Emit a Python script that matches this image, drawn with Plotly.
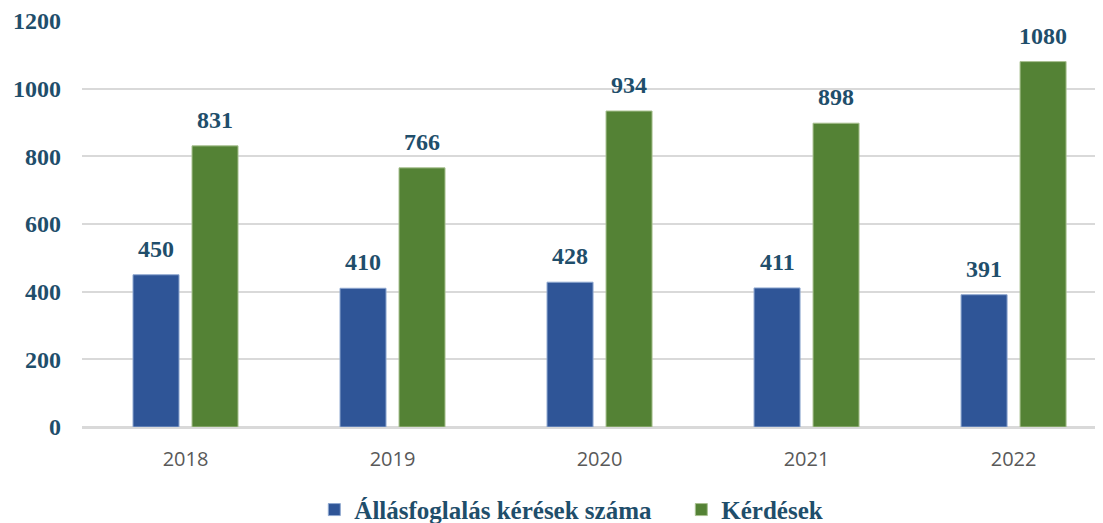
import plotly.graph_objects as go

years = ["2018", "2019", "2020", "2021", "2022"]
allasfoglalas = [450, 410, 428, 411, 391]
kerdesek = [831, 766, 934, 898, 1080]
series_names = ["Állásfoglalás kérések száma", "Kérdések"]
y_ticks = [0, 200, 400, 600, 800, 1000, 1200]

blue = "#2F5597"
green = "#548235"
label_color = "#1F4E6B"
serif = "Liberation Serif"

fig = go.Figure()
fig.add_trace(go.Bar(x=years, y=allasfoglalas, name="<b>" + series_names[0] + "</b>",
                     marker=dict(color=blue, line=dict(color="#8FA8D0", width=1))))
fig.add_trace(go.Bar(x=years, y=kerdesek, name="<b>" + series_names[1] + "</b>",
                     marker=dict(color=green, line=dict(color="#A9C191", width=1))))

for vals, shift in ((allasfoglalas, -29.5), (kerdesek, 29.5)):
    for i, v in enumerate(vals):
        fig.add_annotation(x=i, y=v, xref="x", yref="y", text=f"<b>{v}</b>", showarrow=False,
                           xshift=shift, yanchor="bottom", yshift=11,
                           font=dict(family=serif, size=24, color=label_color))

# page body has an 8px margin, so the figure is sized and placed to compensate
fig.update_layout(
    width=1095, height=515,
    margin=dict(l=74, r=0, t=13, b=96, autoexpand=False),
    paper_bgcolor="white", plot_bgcolor="white",
    barmode="group", bargap=0.43, bargroupgap=0.22,
    showlegend=True,
    legend=dict(orientation="h", x=0.587, xanchor="center", y=-0.204, yanchor="middle",
                font=dict(family=serif, size=25, color=label_color),
                itemwidth=30, entrywidth=322, traceorder="normal"),
    xaxis=dict(type="category", range=[-0.5, 4.432],
               tickfont=dict(family="Open Sans", size=20, color="#595959"),
               showline=True, linecolor="#d9d9d9", linewidth=1.5, ticks="",
               ticklabelstandoff=13),
    yaxis=dict(range=[0, 1200], tickvals=y_ticks,
               ticktext=[f"<b>{t}</b>" for t in y_ticks],
               tickfont=dict(family=serif, size=24, color=label_color),
               showgrid=True, gridcolor="#d9d9d9", gridwidth=1.5,
               zeroline=True, zerolinecolor="#d9d9d9", zerolinewidth=1.5,
               ticklabelstandoff=20),
)

fig.write_html("out.html")
